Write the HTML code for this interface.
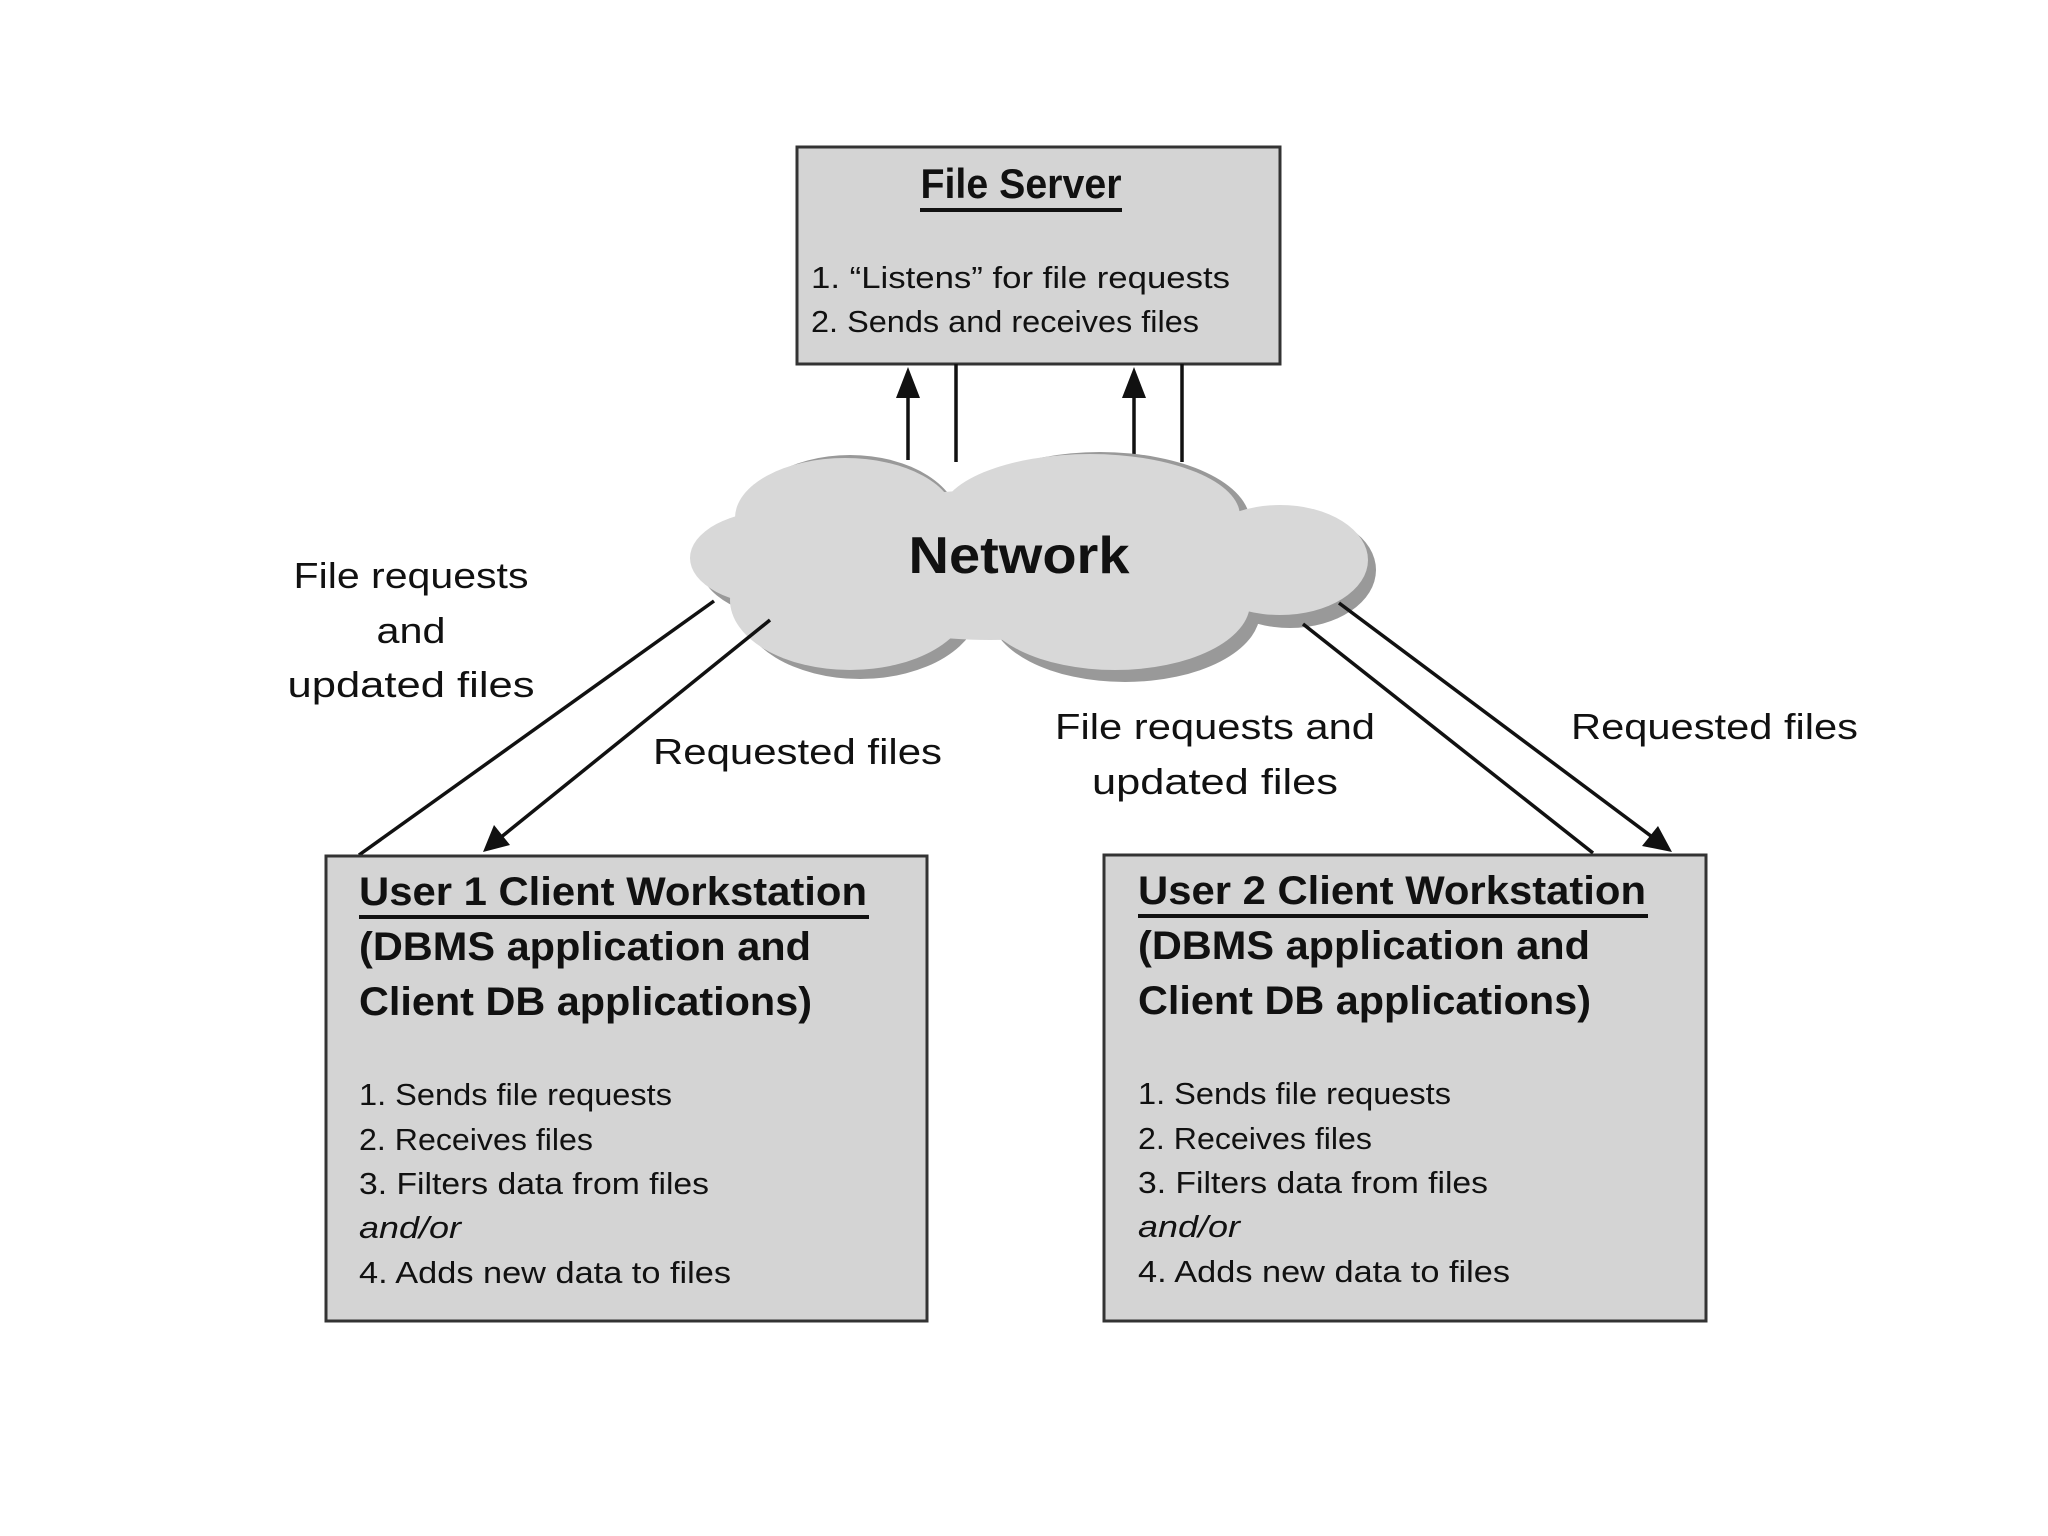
<!DOCTYPE html>
<html><head><meta charset="utf-8"><style>
html,body{margin:0;padding:0;background:#fff;}
svg{display:block;}
text{font-family:"Liberation Sans",sans-serif;fill:#111;}
</style></head><body>
<svg width="2048" height="1536" viewBox="0 0 2048 1536" xmlns="http://www.w3.org/2000/svg">
<!-- File server box -->
<rect x="797" y="147" width="483" height="217" fill="#d4d4d4" stroke="#333" stroke-width="3"/>
<text x="1021" y="198" font-size="42" font-weight="bold" text-anchor="middle" textLength="201" lengthAdjust="spacingAndGlyphs">File Server</text>
<rect x="920" y="208" width="202" height="4" fill="#111"/>
<text x="811" y="288" font-size="31" textLength="419" lengthAdjust="spacingAndGlyphs">1. “Listens” for file requests</text>
<text x="811" y="332" font-size="31" textLength="388" lengthAdjust="spacingAndGlyphs">2. Sends and receives files</text>

<!-- vertical connectors -->
<g stroke="#111" stroke-width="3.5" fill="none">
<line x1="908" y1="460" x2="908" y2="395"/>
<line x1="956" y1="364" x2="956" y2="462"/>
<line x1="1134" y1="460" x2="1134" y2="395"/>
<line x1="1182" y1="364" x2="1182" y2="462"/>
</g>
<polygon points="908,367 896,398 920,398" fill="#111"/>
<polygon points="1134,367 1122,398 1146,398" fill="#111"/>

<!-- cloud shadow -->
<g fill="#999">
<ellipse cx="850" cy="525" rx="110" ry="70"/>
<ellipse cx="1100" cy="522" rx="150" ry="70"/>
<ellipse cx="1290" cy="570" rx="86" ry="58"/>
<ellipse cx="860" cy="605" rx="120" ry="74"/>
<ellipse cx="1125" cy="612" rx="135" ry="70"/>
<ellipse cx="800" cy="565" rx="100" ry="55"/>
</g>
<!-- cloud -->
<g fill="#d8d8d8">
<ellipse cx="845" cy="518" rx="110" ry="60"/>
<ellipse cx="1090" cy="516" rx="150" ry="62"/>
<ellipse cx="780" cy="558" rx="90" ry="48"/>
<ellipse cx="1280" cy="560" rx="88" ry="55"/>
<ellipse cx="850" cy="600" rx="120" ry="70"/>
<ellipse cx="1115" cy="603" rx="135" ry="67"/>
<ellipse cx="990" cy="565" rx="200" ry="75"/>
</g>
<text x="1019" y="573" font-size="52" font-weight="bold" text-anchor="middle" textLength="221" lengthAdjust="spacingAndGlyphs">Network</text>

<!-- diagonal connectors -->
<g stroke="#111" stroke-width="3.5" fill="none">
<line x1="714" y1="601" x2="359" y2="855"/>
<line x1="770" y1="620" x2="500" y2="838"/>
<line x1="1303" y1="624" x2="1593" y2="853"/>
<line x1="1339" y1="603" x2="1655" y2="839"/>
</g>
<polygon points="483,852 494,825 510,845" fill="#111"/>
<polygon points="1672,852 1642,846 1658,826" fill="#111"/>

<!-- labels -->
<g font-size="36">
<text x="411" y="588" text-anchor="middle" textLength="235" lengthAdjust="spacingAndGlyphs">File requests</text>
<text x="411" y="643" text-anchor="middle" textLength="69" lengthAdjust="spacingAndGlyphs">and</text>
<text x="411" y="697" text-anchor="middle" textLength="247" lengthAdjust="spacingAndGlyphs">updated files</text>
<text x="653" y="764" textLength="289" lengthAdjust="spacingAndGlyphs">Requested files</text>
<text x="1215" y="739" text-anchor="middle" textLength="320" lengthAdjust="spacingAndGlyphs">File requests and</text>
<text x="1215" y="794" text-anchor="middle" textLength="246" lengthAdjust="spacingAndGlyphs">updated files</text>
<text x="1571" y="739" textLength="287" lengthAdjust="spacingAndGlyphs">Requested files</text>
</g>

<!-- client 1 -->
<rect x="326" y="856" width="601" height="465" fill="#d4d4d4" stroke="#333" stroke-width="3"/>
<g>
<text x="359" y="905" font-size="40" font-weight="bold" textLength="508" lengthAdjust="spacingAndGlyphs">User 1 Client Workstation</text>
<rect x="359" y="915" width="510" height="4" fill="#111"/>
<text x="359" y="960" font-size="40" font-weight="bold" textLength="452" lengthAdjust="spacingAndGlyphs">(DBMS application and</text>
<text x="359" y="1015" font-size="40" font-weight="bold" textLength="453" lengthAdjust="spacingAndGlyphs">Client DB applications)</text>
<g font-size="31">
<text x="359" y="1105" textLength="313" lengthAdjust="spacingAndGlyphs">1. Sends file requests</text>
<text x="359" y="1150" textLength="234" lengthAdjust="spacingAndGlyphs">2. Receives files</text>
<text x="359" y="1194" textLength="350" lengthAdjust="spacingAndGlyphs">3. Filters data from files</text>
<text x="359" y="1238" font-style="italic" textLength="102" lengthAdjust="spacingAndGlyphs">and/or</text>
<text x="359" y="1283" textLength="372" lengthAdjust="spacingAndGlyphs">4. Adds new data to files</text>
</g>
</g>

<!-- client 2 -->
<rect x="1104" y="855" width="602" height="466" fill="#d4d4d4" stroke="#333" stroke-width="3"/>
<g transform="translate(779,-1)">
<text x="359" y="905" font-size="40" font-weight="bold" textLength="508" lengthAdjust="spacingAndGlyphs">User 2 Client Workstation</text>
<rect x="359" y="915" width="510" height="4" fill="#111"/>
<text x="359" y="960" font-size="40" font-weight="bold" textLength="452" lengthAdjust="spacingAndGlyphs">(DBMS application and</text>
<text x="359" y="1015" font-size="40" font-weight="bold" textLength="453" lengthAdjust="spacingAndGlyphs">Client DB applications)</text>
<g font-size="31">
<text x="359" y="1105" textLength="313" lengthAdjust="spacingAndGlyphs">1. Sends file requests</text>
<text x="359" y="1150" textLength="234" lengthAdjust="spacingAndGlyphs">2. Receives files</text>
<text x="359" y="1194" textLength="350" lengthAdjust="spacingAndGlyphs">3. Filters data from files</text>
<text x="359" y="1238" font-style="italic" textLength="102" lengthAdjust="spacingAndGlyphs">and/or</text>
<text x="359" y="1283" textLength="372" lengthAdjust="spacingAndGlyphs">4. Adds new data to files</text>
</g>
</g>
</svg>
</body></html>
